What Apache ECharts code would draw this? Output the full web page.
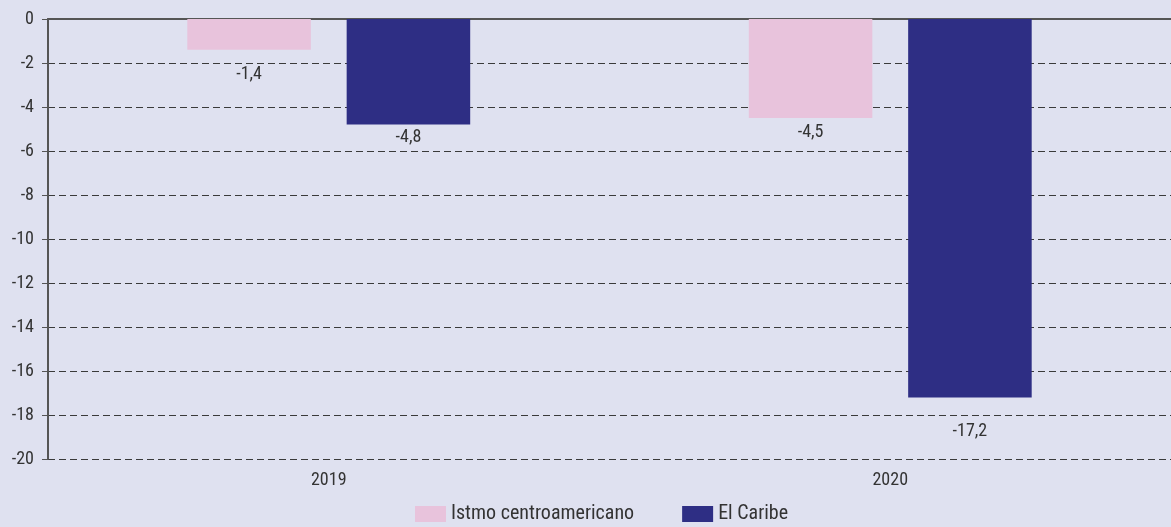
<!DOCTYPE html>
<html>
<head>
<meta charset="utf-8">
<script src="https://cdn.jsdelivr.net/npm/echarts@6/dist/echarts.min.js"></script>
<style>
  html, body { margin: 0; padding: 0; background: #dfe1f0; }
  #chart { width: 1171px; height: 527px; }
</style>
</head>
<body>
<div id="chart"></div>
<script>
// datos
const years = ["2019", "2020"];
const istmo = [-1.4, -4.5];
const caribe = [-4.8, -17.2];
const seriesNames = ["Istmo centroamericano", "El Caribe"];

// separación de las etiquetas bajo cada barra (para no pisar la rejilla)
const istmoLabelGap = [16, 5];
const caribeLabelGap = [4, 25];

const FONT = '"Liberation Sans Narrow", "Roboto Condensed", "Roboto", sans-serif';
const fmt = (p) => String(p.value).replace(".", ",");

function withLabels(values, gaps) {
  return values.map((v, i) => ({ value: v, label: { distance: gaps[i] } }));
}

let myChart = echarts.init(document.getElementById("chart"));
let labelStyle = { show: true, position: "bottom", formatter: fmt, fontFamily: FONT, fontSize: 18, color: "#333" };
let option = {
  backgroundColor: "#dfe1f0",
  textStyle: { fontFamily: FONT },
  grid: { left: 48, right: 0, top: 19, bottom: 68 },
  legend: {
    bottom: -2,
    left: 410,
    icon: "rect",
    itemWidth: 31,
    itemHeight: 16,
    itemGap: 48,
    itemStyle: { borderWidth: 0 },
    textStyle: { fontFamily: FONT, fontSize: 20, color: "#333" },
    data: seriesNames
  },
  xAxis: [
    {
      type: "category",
      data: years,
      position: "top",
      axisLine: { onZero: false, lineStyle: { color: "#555", width: 2 } },
      axisTick: { inside: true, length: 8, lineStyle: { color: "#555", width: 2 } },
      axisLabel: { show: false }
    },
    {
      type: "category",
      data: years,
      position: "bottom",
      axisLine: { show: false },
      axisTick: { show: false },
      axisLabel: { fontFamily: FONT, fontSize: 18, color: "#333", margin: 12 }
    }
  ],
  yAxis: {
    type: "value",
    min: -20,
    max: 0,
    interval: 2,
    axisLine: { show: true, lineStyle: { color: "#555", width: 2 } },
    axisTick: { show: true, length: 6, lineStyle: { color: "#555" } },
    axisLabel: { fontFamily: FONT, fontSize: 18, color: "#333", margin: 14 },
    splitLine: { lineStyle: { color: "#3a3a3a", type: [7, 4], width: 1 } }
  },
  series: [
    {
      name: seriesNames[0],
      type: "bar",
      data: withLabels(istmo, istmoLabelGap),
      barWidth: "22%",
      barGap: "29%",
      itemStyle: { color: "#e8c3dc" },
      label: labelStyle
    },
    {
      name: seriesNames[1],
      type: "bar",
      data: withLabels(caribe, caribeLabelGap),
      barWidth: "22%",
      itemStyle: { color: "#2e2e84" },
      label: labelStyle
    }
  ]
};
window.onresize = myChart.resize;
myChart.setOption(option);
</script>
</body>
</html>
